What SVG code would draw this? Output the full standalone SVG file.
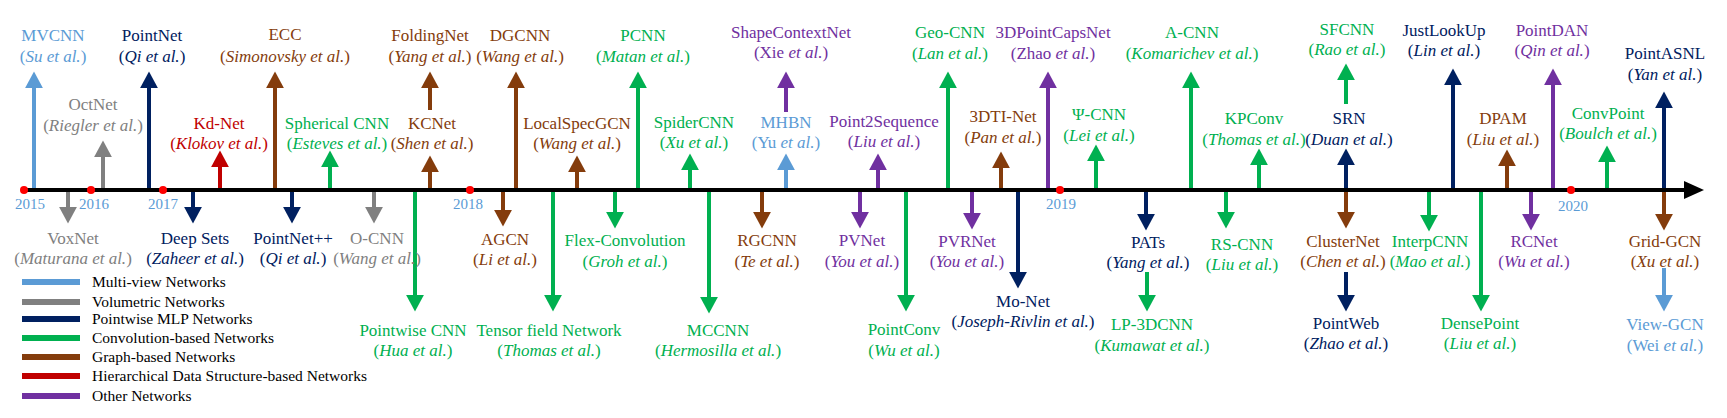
<svg xmlns="http://www.w3.org/2000/svg" width="1727" height="418" viewBox="0 0 1727 418" font-family="'Liberation Serif','Times New Roman','DejaVu Serif',serif">
<style>
text{font-family:"Liberation Serif","Times New Roman","DejaVu Serif",serif;font-size:17px;text-anchor:middle}
.i{font-style:italic}
.mv{fill:#5b9bd5}.vo{fill:#808080}.pw{fill:#002060}.cv{fill:#00b050}.gr{fill:#843c0c}.hi{fill:#c00000}.ot{fill:#7030a0}
.a{stroke-width:4;fill:none}
.smv{stroke:#5b9bd5}.svo{stroke:#808080}.spw{stroke:#002060}.scv{stroke:#00b050}.sgr{stroke:#843c0c}.shi{stroke:#c00000}.sot{stroke:#7030a0}
.yr{fill:#5b9bd5;font-size:15px}
.lg{font-size:15.5px;text-anchor:start;fill:#000}
</style>
<defs>
<marker id="hmv" markerUnits="userSpaceOnUse" markerWidth="20" markerHeight="20" refX="1" refY="0" viewBox="0 -9 16 18" orient="auto"><path d="M0,-8L15,0L0,8z" fill="#5b9bd5"/></marker>
<marker id="hvo" markerUnits="userSpaceOnUse" markerWidth="20" markerHeight="20" refX="1" refY="0" viewBox="0 -9 16 18" orient="auto"><path d="M0,-8L15,0L0,8z" fill="#808080"/></marker>
<marker id="hpw" markerUnits="userSpaceOnUse" markerWidth="20" markerHeight="20" refX="1" refY="0" viewBox="0 -9 16 18" orient="auto"><path d="M0,-8L15,0L0,8z" fill="#002060"/></marker>
<marker id="hcv" markerUnits="userSpaceOnUse" markerWidth="20" markerHeight="20" refX="1" refY="0" viewBox="0 -9 16 18" orient="auto"><path d="M0,-8L15,0L0,8z" fill="#00b050"/></marker>
<marker id="hgr" markerUnits="userSpaceOnUse" markerWidth="20" markerHeight="20" refX="1" refY="0" viewBox="0 -9 16 18" orient="auto"><path d="M0,-8L15,0L0,8z" fill="#843c0c"/></marker>
<marker id="hhi" markerUnits="userSpaceOnUse" markerWidth="20" markerHeight="20" refX="1" refY="0" viewBox="0 -9 16 18" orient="auto"><path d="M0,-8L15,0L0,8z" fill="#c00000"/></marker>
<marker id="hot" markerUnits="userSpaceOnUse" markerWidth="20" markerHeight="20" refX="1" refY="0" viewBox="0 -9 16 18" orient="auto"><path d="M0,-8L15,0L0,8z" fill="#7030a0"/></marker>
</defs>
<rect width="1727" height="418" fill="#fff"/>
<g id="connectors">
<line class="a smv" x1="34" y1="190" x2="34" y2="87" marker-end="url(#hmv)"/>
<line class="a svo" x1="103" y1="190" x2="103" y2="156" marker-end="url(#hvo)"/>
<line class="a spw" x1="149" y1="190" x2="149" y2="87" marker-end="url(#hpw)"/>
<line class="a shi" x1="220" y1="190" x2="220" y2="166" marker-end="url(#hhi)"/>
<line class="a sgr" x1="275" y1="190" x2="275" y2="87" marker-end="url(#hgr)"/>
<line class="a scv" x1="330" y1="190" x2="330" y2="166" marker-end="url(#hcv)"/>
<line class="a sgr" x1="430" y1="190" x2="430" y2="171" marker-end="url(#hgr)"/>
<line class="a sgr" x1="430" y1="110" x2="430" y2="87" marker-end="url(#hgr)"/>
<line class="a svo" x1="68" y1="190" x2="68" y2="208" marker-end="url(#hvo)"/>
<line class="a spw" x1="193" y1="190" x2="193" y2="208" marker-end="url(#hpw)"/>
<line class="a spw" x1="292" y1="190" x2="292" y2="208" marker-end="url(#hpw)"/>
<line class="a svo" x1="374" y1="190" x2="374" y2="208" marker-end="url(#hvo)"/>
<line class="a scv" x1="415" y1="190" x2="415" y2="296" marker-end="url(#hcv)"/>
<line class="a sgr" x1="516" y1="190" x2="516" y2="87" marker-end="url(#hgr)"/>
<line class="a sgr" x1="503" y1="190" x2="503" y2="211" marker-end="url(#hgr)"/>
<line class="a scv" x1="553" y1="190" x2="553" y2="296" marker-end="url(#hcv)"/>
<line class="a sgr" x1="577" y1="190" x2="577" y2="171" marker-end="url(#hgr)"/>
<line class="a scv" x1="615" y1="190" x2="615" y2="213" marker-end="url(#hcv)"/>
<line class="a scv" x1="638" y1="190" x2="638" y2="87" marker-end="url(#hcv)"/>
<line class="a scv" x1="690" y1="190" x2="690" y2="169" marker-end="url(#hcv)"/>
<line class="a scv" x1="709" y1="190" x2="709" y2="298" marker-end="url(#hcv)"/>
<line class="a sgr" x1="762" y1="190" x2="762" y2="213" marker-end="url(#hgr)"/>
<line class="a sot" x1="786" y1="112" x2="786" y2="87" marker-end="url(#hot)"/>
<line class="a smv" x1="786" y1="190" x2="786" y2="169" marker-end="url(#hmv)"/>
<line class="a sot" x1="860" y1="190" x2="860" y2="213" marker-end="url(#hot)"/>
<line class="a sot" x1="878" y1="190" x2="878" y2="169" marker-end="url(#hot)"/>
<line class="a scv" x1="906" y1="190" x2="906" y2="296" marker-end="url(#hcv)"/>
<line class="a scv" x1="948" y1="190" x2="948" y2="87" marker-end="url(#hcv)"/>
<line class="a sot" x1="972" y1="190" x2="972" y2="214" marker-end="url(#hot)"/>
<line class="a sgr" x1="1001" y1="190" x2="1001" y2="167" marker-end="url(#hgr)"/>
<line class="a spw" x1="1018" y1="190" x2="1018" y2="273" marker-end="url(#hpw)"/>
<line class="a sot" x1="1048" y1="190" x2="1048" y2="87" marker-end="url(#hot)"/>
<line class="a scv" x1="1096" y1="190" x2="1096" y2="160" marker-end="url(#hcv)"/>
<line class="a spw" x1="1146" y1="190" x2="1146" y2="215" marker-end="url(#hpw)"/>
<line class="a scv" x1="1147" y1="272" x2="1147" y2="296" marker-end="url(#hcv)"/>
<line class="a scv" x1="1191" y1="190" x2="1191" y2="87" marker-end="url(#hcv)"/>
<line class="a scv" x1="1226" y1="190" x2="1226" y2="213" marker-end="url(#hcv)"/>
<line class="a scv" x1="1259" y1="190" x2="1259" y2="164" marker-end="url(#hcv)"/>
<line class="a spw" x1="1346" y1="190" x2="1346" y2="164" marker-end="url(#hpw)"/>
<line class="a scv" x1="1346" y1="104" x2="1346" y2="79" marker-end="url(#hcv)"/>
<line class="a sgr" x1="1346" y1="190" x2="1346" y2="213" marker-end="url(#hgr)"/>
<line class="a spw" x1="1346" y1="272" x2="1346" y2="296" marker-end="url(#hpw)"/>
<line class="a scv" x1="1429" y1="190" x2="1429" y2="216" marker-end="url(#hcv)"/>
<line class="a spw" x1="1453" y1="190" x2="1453" y2="84" marker-end="url(#hpw)"/>
<line class="a scv" x1="1481" y1="190" x2="1481" y2="296" marker-end="url(#hcv)"/>
<line class="a sgr" x1="1507" y1="190" x2="1507" y2="165" marker-end="url(#hgr)"/>
<line class="a sot" x1="1531" y1="190" x2="1531" y2="215" marker-end="url(#hot)"/>
<line class="a sot" x1="1553" y1="190" x2="1553" y2="84" marker-end="url(#hot)"/>
<line class="a scv" x1="1607" y1="190" x2="1607" y2="161" marker-end="url(#hcv)"/>
<line class="a spw" x1="1664" y1="190" x2="1664" y2="107" marker-end="url(#hpw)"/>
<line class="a sgr" x1="1664" y1="190" x2="1664" y2="215" marker-end="url(#hgr)"/>
<line class="a smv" x1="1664" y1="268" x2="1664" y2="296" marker-end="url(#hmv)"/>
</g>
<g id="axis">
<line x1="22" y1="190" x2="1688" y2="190" stroke="#000" stroke-width="4"/>
<polygon points="1684,181 1704,190 1684,199" fill="#000"/>
<g fill="#f00"><circle cx="24" cy="190" r="4"/><circle cx="91" cy="190" r="4"/><circle cx="163" cy="190" r="4"/><circle cx="470" cy="190" r="4"/><circle cx="1060" cy="190" r="4"/><circle cx="1571" cy="190" r="4"/></g>
<text class="yr" x="30" y="209">2015</text><text class="yr" x="94" y="209">2016</text><text class="yr" x="163" y="209">2017</text><text class="yr" x="468" y="209">2018</text><text class="yr" x="1061" y="209">2019</text><text class="yr" x="1573" y="211">2020</text>
</g>
<g id="n-mvcnn" class="mv"><text x="53" y="41">MVCNN</text><text x="53" y="62">(<tspan class="i">Su et al.</tspan>)</text></g>
<g id="n-octnet" class="vo"><text x="93" y="110">OctNet</text><text x="93" y="131">(<tspan class="i">Riegler et al.</tspan>)</text></g>
<g id="n-pointnet" class="pw"><text x="152" y="41">PointNet</text><text x="152" y="62">(<tspan class="i">Qi et al.</tspan>)</text></g>
<g id="n-kdnet" class="hi"><text x="219" y="129">Kd-Net</text><text x="219" y="149">(<tspan class="i">Klokov et al.</tspan>)</text></g>
<g id="n-ecc" class="gr"><text x="285" y="40">ECC</text><text x="285" y="62">(<tspan class="i">Simonovsky  et al.</tspan>)</text></g>
<g id="n-spherical" class="cv"><text x="337" y="129">Spherical CNN</text><text x="337" y="149">(<tspan class="i">Esteves et al.</tspan>)</text></g>
<g id="n-kcnet" class="gr"><text x="432" y="129">KCNet</text><text x="432" y="149">(<tspan class="i">Shen et al.</tspan>)</text></g>
<g id="n-foldingnet" class="gr"><text x="430" y="41">FoldingNet</text><text x="430" y="62">(<tspan class="i">Yang et al.</tspan>)</text></g>
<g id="n-voxnet" class="vo"><text x="73" y="244">VoxNet</text><text x="73" y="264">(<tspan class="i">Maturana et al.</tspan>)</text></g>
<g id="n-deepsets" class="pw"><text x="195" y="244">Deep Sets</text><text x="195" y="264">(<tspan class="i">Zaheer et al.</tspan>)</text></g>
<g id="n-pointnetpp" class="pw"><text x="293" y="244">PointNet++</text><text x="293" y="264">(<tspan class="i">Qi et al.</tspan>)</text></g>
<g id="n-ocnn" class="vo"><text x="377" y="244">O-CNN</text><text x="377" y="264">(<tspan class="i">Wang  et al.</tspan>)</text></g>
<g id="n-pointwisecnn" class="cv"><text x="413" y="336">Pointwise CNN</text><text x="413" y="356">(<tspan class="i">Hua et al.</tspan>)</text></g>
<g id="n-dgcnn" class="gr"><text x="520" y="41">DGCNN</text><text x="520" y="62">(<tspan class="i">Wang et al.</tspan>)</text></g>
<g id="n-agcn" class="gr"><text x="505" y="245">AGCN</text><text x="505" y="265">(<tspan class="i">Li et al.</tspan>)</text></g>
<g id="n-tfn" class="cv"><text x="549" y="336">Tensor field Network</text><text x="549" y="356">(<tspan class="i">Thomas et al.</tspan>)</text></g>
<g id="n-localspec" class="gr"><text x="577" y="129">LocalSpecGCN</text><text x="577" y="149">(<tspan class="i">Wang et al.</tspan>)</text></g>
<g id="n-flex" class="cv"><text x="625" y="246">Flex-Convolution</text><text x="625" y="267">(<tspan class="i">Groh et al.</tspan>)</text></g>
<g id="n-pcnn" class="cv"><text x="643" y="41">PCNN</text><text x="643" y="62">(<tspan class="i">Matan et al.</tspan>)</text></g>
<g id="n-spider" class="cv"><text x="694" y="128">SpiderCNN</text><text x="694" y="148">(<tspan class="i">Xu et al.</tspan>)</text></g>
<g id="n-mccnn" class="cv"><text x="718" y="336">MCCNN</text><text x="718" y="356">(<tspan class="i">Hermosilla et al.</tspan>)</text></g>
<g id="n-rgcnn" class="gr"><text x="767" y="246">RGCNN</text><text x="767" y="267">(<tspan class="i">Te et al.</tspan>)</text></g>
<g id="n-shapecontext" class="ot"><text x="791" y="38">ShapeContextNet</text><text x="791" y="58">(Xie <tspan class="i">et al.</tspan>)</text></g>
<g id="n-mhbn" class="mv"><text x="786" y="128">MHBN</text><text x="786" y="148">(Yu <tspan class="i">et al.</tspan>)</text></g>
<g id="n-pvnet" class="ot"><text x="862" y="246">PVNet</text><text x="862" y="267">(<tspan class="i">You et al.</tspan>)</text></g>
<g id="n-p2s" class="ot"><text x="884" y="127">Point2Sequence</text><text x="884" y="147">(<tspan class="i">Liu et al.</tspan>)</text></g>
<g id="n-pointconv" class="cv"><text x="904" y="335">PointConv</text><text x="904" y="356">(<tspan class="i">Wu et al.</tspan>)</text></g>
<g id="n-geocnn" class="cv"><text x="950" y="38">Geo-CNN</text><text x="950" y="59">(<tspan class="i">Lan et al.</tspan>)</text></g>
<g id="n-pvrnet" class="ot"><text x="967" y="247">PVRNet</text><text x="967" y="267">(<tspan class="i">You et al.</tspan>)</text></g>
<g id="n-3dti" class="gr"><text x="1003" y="122">3DTI-Net</text><text x="1003" y="143">(<tspan class="i">Pan et al.</tspan>)</text></g>
<g id="n-monet" class="pw"><text x="1023" y="307">Mo-Net</text><text x="1023" y="327">(<tspan class="i">Joseph-Rivlin et al.</tspan>)</text></g>
<g id="n-caps" class="ot"><text x="1053" y="38">3DPointCapsNet</text><text x="1053" y="59">(Zhao <tspan class="i">et al.</tspan>)</text></g>
<g id="n-psicnn" class="cv"><text x="1099" y="120">Ψ-CNN</text><text x="1099" y="141">(<tspan class="i">Lei et al.</tspan>)</text></g>
<g id="n-pats" class="pw"><text x="1148" y="248">PATs</text><text x="1148" y="268">(<tspan class="i">Yang et al.</tspan>)</text></g>
<g id="n-lp3d" class="cv"><text x="1152" y="330">LP-3DCNN</text><text x="1152" y="351">(<tspan class="i">Kumawat et al.</tspan>)</text></g>
<g id="n-acnn" class="cv"><text x="1192" y="38">A-CNN</text><text x="1192" y="59">(<tspan class="i">Komarichev et al.</tspan>)</text></g>
<g id="n-rscnn" class="cv"><text x="1242" y="250">RS-CNN</text><text x="1242" y="270">(<tspan class="i">Liu et al.</tspan>)</text></g>
<g id="n-kpconv" class="cv"><text x="1254" y="124">KPConv</text><text x="1254" y="145">(<tspan class="i">Thomas et al.</tspan>)</text></g>
<g id="n-srn" class="pw"><text x="1349" y="124">SRN</text><text x="1349" y="145">(<tspan class="i">Duan et al.</tspan>)</text></g>
<g id="n-sfcnn" class="cv"><text x="1347" y="35">SFCNN</text><text x="1347" y="55">(<tspan class="i">Rao et al.</tspan>)</text></g>
<g id="n-cluster" class="gr"><text x="1343" y="247">ClusterNet</text><text x="1343" y="267">(<tspan class="i">Chen et al.</tspan>)</text></g>
<g id="n-pointweb" class="pw"><text x="1346" y="329">PointWeb</text><text x="1346" y="349">(<tspan class="i">Zhao et al.</tspan>)</text></g>
<g id="n-interp" class="cv"><text x="1430" y="247">InterpCNN</text><text x="1430" y="267">(<tspan class="i">Mao et al.</tspan>)</text></g>
<g id="n-jlu" class="pw"><text x="1444" y="36">JustLookUp</text><text x="1444" y="56">(<tspan class="i">Lin et al.</tspan>)</text></g>
<g id="n-dense" class="cv"><text x="1480" y="329">DensePoint</text><text x="1480" y="349">(<tspan class="i">Liu et al.</tspan>)</text></g>
<g id="n-dpam" class="gr"><text x="1503" y="124">DPAM</text><text x="1503" y="145">(<tspan class="i">Liu et al.</tspan>)</text></g>
<g id="n-rcnet" class="ot"><text x="1534" y="247">RCNet</text><text x="1534" y="267">(<tspan class="i">Wu et al.</tspan>)</text></g>
<g id="n-pointdan" class="ot"><text x="1552" y="36">PointDAN</text><text x="1552" y="56">(<tspan class="i">Qin et al.</tspan>)</text></g>
<g id="n-convpoint" class="cv"><text x="1608" y="119">ConvPoint</text><text x="1608" y="139">(<tspan class="i">Boulch et al.</tspan>)</text></g>
<g id="n-pointasnl" class="pw"><text x="1665" y="59">PointASNL</text><text x="1665" y="80">(<tspan class="i">Yan et al.</tspan>)</text></g>
<g id="n-gridgcn" class="gr"><text x="1665" y="247">Grid-GCN</text><text x="1665" y="267">(<tspan class="i">Xu et al.</tspan>)</text></g>
<g id="n-viewgcn" class="mv"><text x="1665" y="330">View-GCN</text><text x="1665" y="351">(Wei <tspan class="i">et al.</tspan>)</text></g>
<g id="legend">
<rect x="22" y="279" width="58" height="6" fill="#5b9bd5"/><text class="lg" x="92" y="287">Multi-view Networks</text>
<rect x="22" y="299" width="58" height="6" fill="#808080"/><text class="lg" x="92" y="307">Volumetric Networks</text>
<rect x="22" y="316" width="58" height="6" fill="#002060"/><text class="lg" x="92" y="324">Pointwise MLP Networks</text>
<rect x="22" y="335" width="58" height="6" fill="#00b050"/><text class="lg" x="92" y="343">Convolution-based Networks</text>
<rect x="22" y="354" width="58" height="6" fill="#843c0c"/><text class="lg" x="92" y="362">Graph-based Networks</text>
<rect x="22" y="373" width="58" height="6" fill="#c00000"/><text class="lg" x="92" y="381">Hierarchical Data Structure-based Networks</text>
<rect x="22" y="393" width="58" height="6" fill="#7030a0"/><text class="lg" x="92" y="401">Other Networks</text>
</g>
</svg>
